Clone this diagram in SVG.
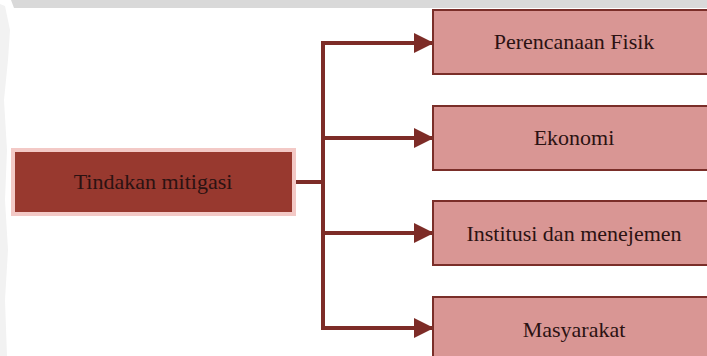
<svg xmlns="http://www.w3.org/2000/svg" width="707" height="356" viewBox="0 0 707 356">
  <defs>
    <style>
      .box { fill: #d99694; stroke: #7a2e29; stroke-width: 2; }
      .main { fill: #98392f; stroke: #f3c9c6; stroke-width: 4; }
      .lbl { font-family: "Liberation Serif", "Times New Roman", serif; font-size: 22px; fill: #2b1212; text-anchor: middle; }
      .conn { fill: none; stroke: #7d2c27; stroke-width: 4; }
    </style>
    <marker id="ah" markerWidth="20" markerHeight="20" refX="19" refY="10" orient="auto" markerUnits="userSpaceOnUse">
      <path d="M0,0 L20,10 L0,20 Z" fill="#7d2c27"/>
    </marker>
  </defs>
  <rect width="707" height="356" fill="#ffffff"/>
  <!-- background decorations -->
  <polygon points="11,0 707,0 707,8 14,8" fill="#d9d9d9"/>
  <path d="M0,4 L5,6 L10,30 L8,60 L4,100 L7,150 L5,200 L8,250 L5,300 L7,356 L0,356 Z" fill="#f2f2f2"/>

  <g id="connectors">
    <line class="conn" x1="292" y1="182" x2="323" y2="182"/>
    <line class="conn" x1="323" y1="41" x2="323" y2="330"/>
    <line class="conn" x1="321" y1="43" x2="433" y2="43" marker-end="url(#ah)"/>
    <line class="conn" x1="321" y1="138" x2="433" y2="138" marker-end="url(#ah)"/>
    <line class="conn" x1="321" y1="233" x2="433" y2="233" marker-end="url(#ah)"/>
    <line class="conn" x1="321" y1="328" x2="433" y2="328" marker-end="url(#ah)"/>
  </g>

  <g id="node-tindakan">
    <rect class="main" x="13" y="150" width="281" height="64"/>
    <text class="lbl" x="153" y="189">Tindakan mitigasi</text>
  </g>
  <g id="node-fisik">
    <rect class="box" x="433" y="10" width="290" height="64"/>
    <text class="lbl" x="574" y="49">Perencanaan Fisik</text>
  </g>
  <g id="node-ekonomi">
    <rect class="box" x="433" y="106" width="290" height="64"/>
    <text class="lbl" x="574" y="145">Ekonomi</text>
  </g>
  <g id="node-institusi">
    <rect class="box" x="433" y="201" width="290" height="64"/>
    <text class="lbl" x="574" y="241">Institusi dan menejemen</text>
  </g>
  <g id="node-masyarakat">
    <rect class="box" x="433" y="297" width="290" height="64"/>
    <text class="lbl" x="574" y="337">Masyarakat</text>
  </g>
</svg>
